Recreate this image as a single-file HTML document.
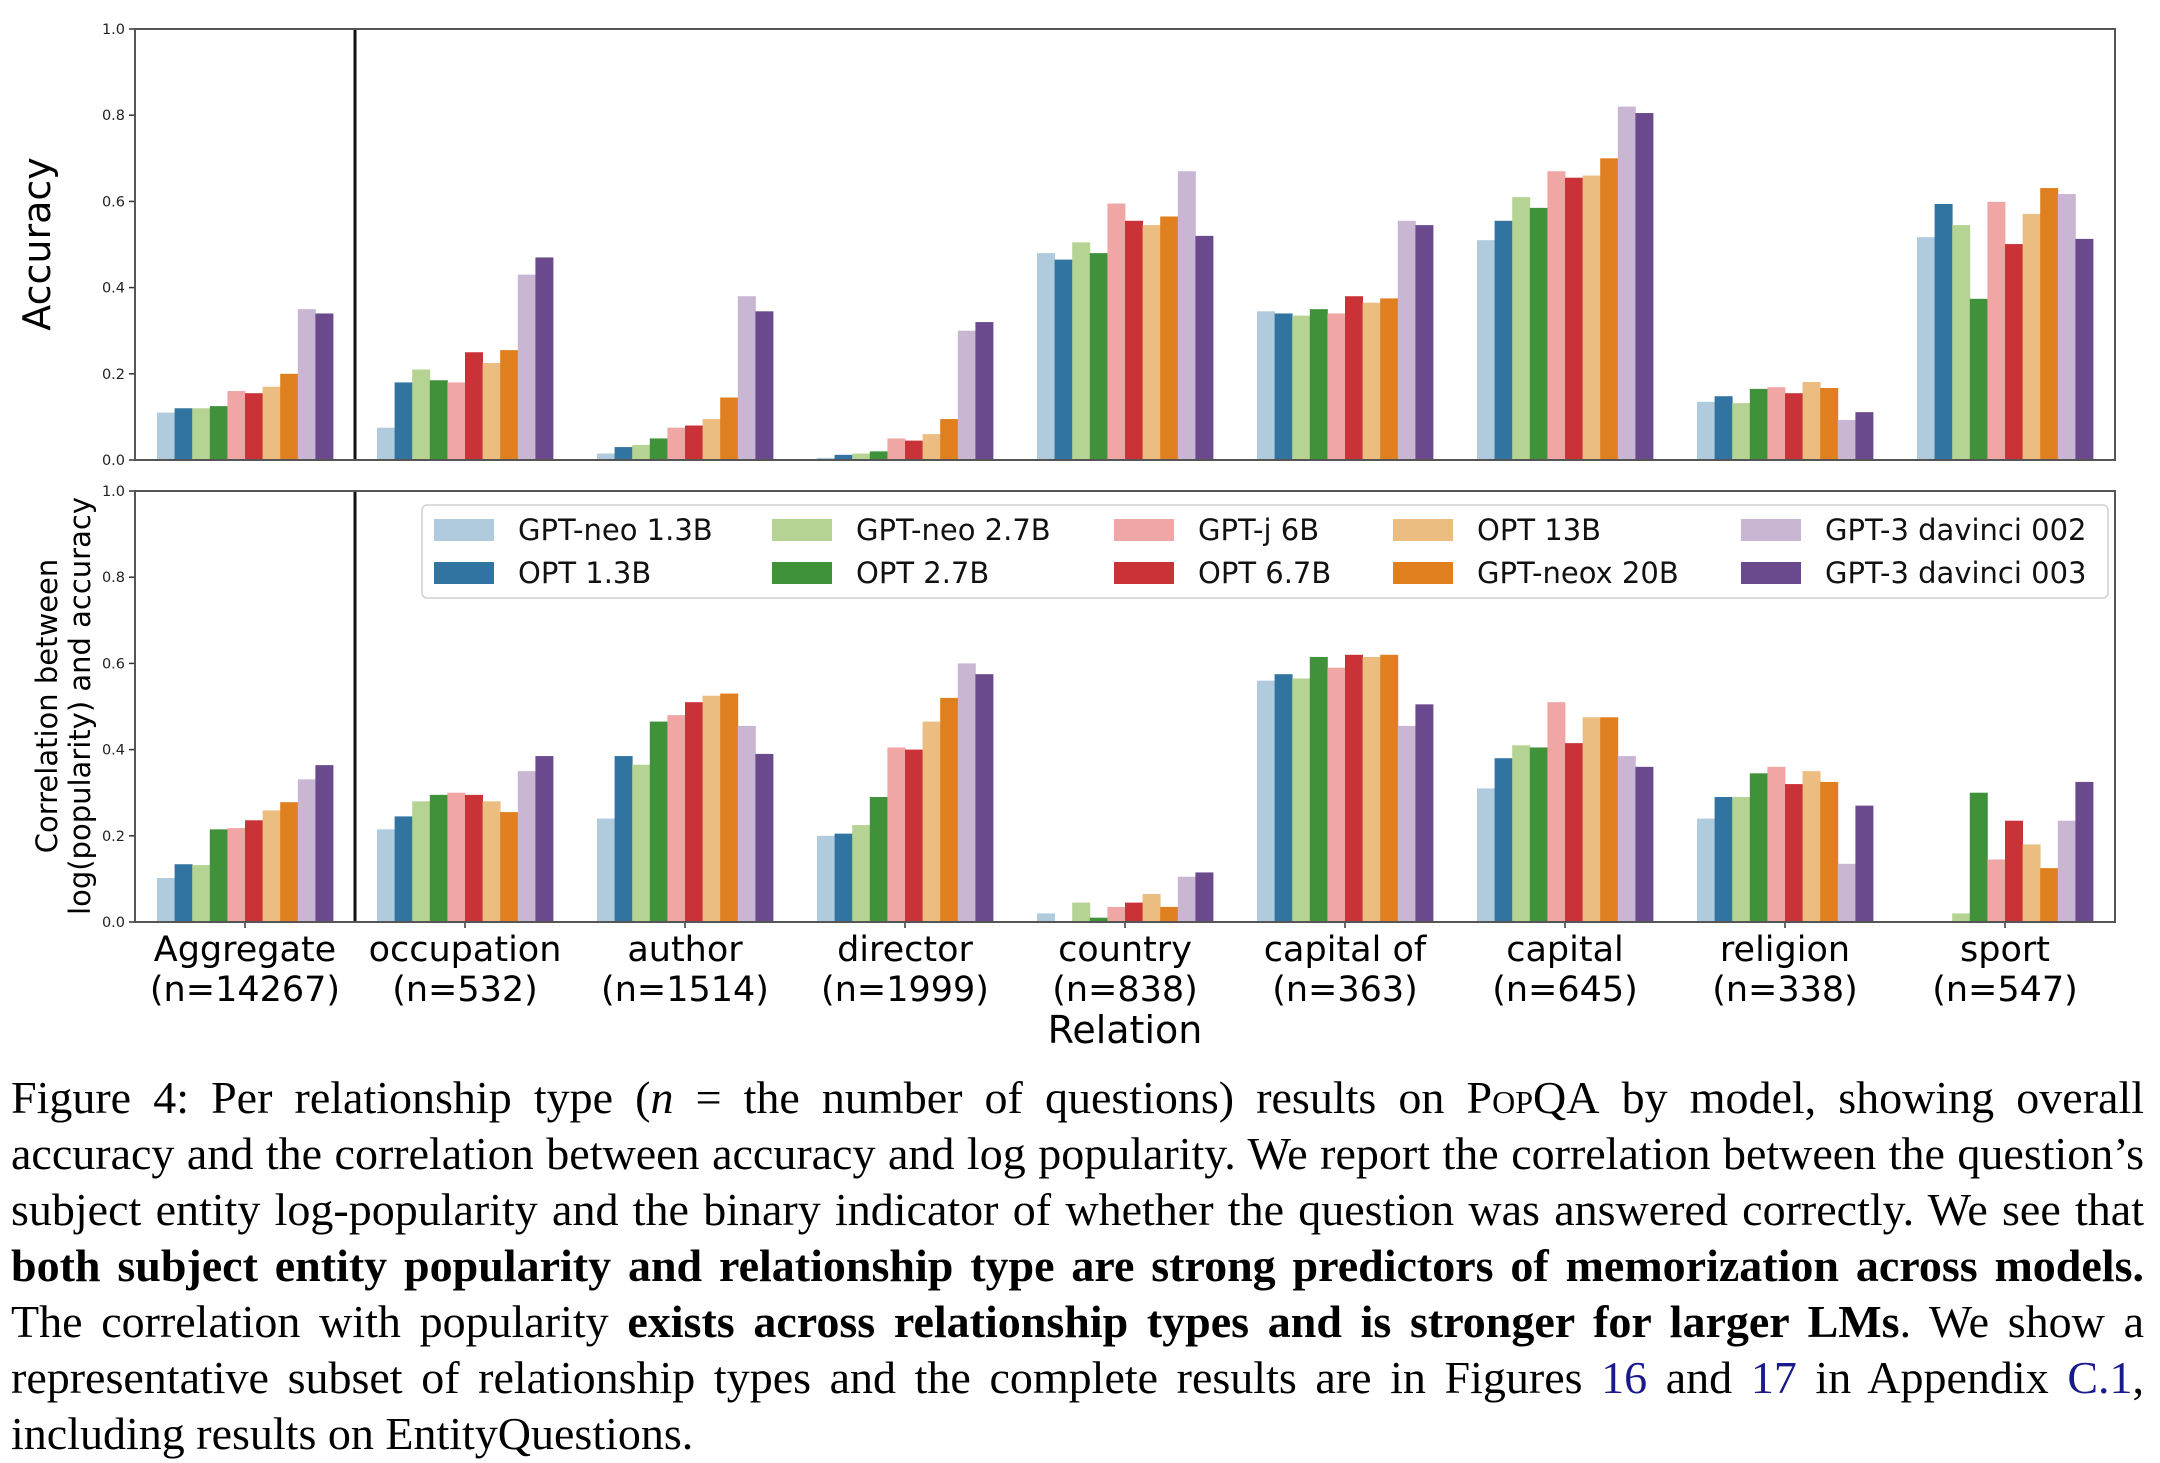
<!DOCTYPE html>
<html><head><meta charset="utf-8"><style>
html,body{margin:0;padding:0;background:#fff;}
#wrap{position:relative;width:2160px;height:1463px;overflow:hidden;}
svg{position:absolute;left:0;top:0;}
.cap{position:absolute;left:11px;width:2133px;font-family:"Liberation Serif",serif;font-size:46px;line-height:56px;color:#000;white-space:nowrap;}
.j{text-align:justify;text-align-last:justify;}
.sc{font-variant:small-caps;}
.lk{color:#1a1a8c;}
b{font-weight:bold;}
</style></head><body>
<div id="wrap">
<svg id="chart" width="2160" height="1463" font-family="DejaVu Sans, sans-serif"></svg>
<div class="cap j" style="top:1070px">Figure 4: Per relationship type (<i>n</i> = the number of questions) results on <span class="sc">PopQA</span> by model, showing overall</div>
<div class="cap j" style="top:1126px">accuracy and the correlation between accuracy and log popularity. We report the correlation between the question’s</div>
<div class="cap j" style="top:1182px">subject entity log-popularity and the binary indicator of whether the question was answered correctly. We see that</div>
<div class="cap j" style="top:1238px"><b>both subject entity popularity and relationship type are strong predictors of memorization across models.</b></div>
<div class="cap j" style="top:1294px">The correlation with popularity <b>exists across relationship types and is stronger for larger LMs</b>. We show a</div>
<div class="cap j" style="top:1350px">representative subset of relationship types and the complete results are in Figures <span class="lk">16</span> and <span class="lk">17</span> in Appendix <span class="lk">C.1</span>,</div>
<div class="cap" style="top:1406px">including results on EntityQuestions.</div>
</div>
<script>
const categories = ["Aggregate","occupation","author","director","country","capital of","capital","religion","sport"];
const counts = ["14267","532","1514","1999","838","363","645","338","547"];
const models = ["GPT-neo 1.3B","OPT 1.3B","GPT-neo 2.7B","OPT 2.7B","GPT-j 6B","OPT 6.7B","OPT 13B","GPT-neox 20B","GPT-3 davinci 002","GPT-3 davinci 003"];
const colors = ["#afcbdd","#3274a1","#b5d494","#3f923a","#f0a6a5","#c93337","#ebbd80","#e07f20","#c8b6d3","#6a4a8d"];
const yTicks = ["0.0","0.2","0.4","0.6","0.8","1.0"];
// accuracy[category][model]
const accuracy = [
 [0.11,0.12,0.12,0.125,0.16,0.155,0.17,0.20,0.35,0.34],
 [0.075,0.18,0.21,0.185,0.18,0.25,0.225,0.255,0.43,0.47],
 [0.015,0.03,0.035,0.05,0.075,0.08,0.095,0.145,0.38,0.345],
 [0.005,0.012,0.015,0.02,0.05,0.045,0.06,0.095,0.30,0.32],
 [0.48,0.465,0.505,0.48,0.595,0.555,0.545,0.565,0.67,0.52],
 [0.345,0.34,0.335,0.35,0.34,0.38,0.365,0.375,0.555,0.545],
 [0.51,0.555,0.61,0.585,0.67,0.655,0.66,0.70,0.82,0.805],
 [0.135,0.148,0.132,0.165,0.169,0.155,0.181,0.167,0.093,0.111],
 [0.517,0.594,0.545,0.374,0.599,0.501,0.571,0.631,0.617,0.513]
];
// correlation[category][model]
const correlation = [
 [0.102,0.134,0.132,0.215,0.218,0.236,0.259,0.278,0.331,0.364],
 [0.215,0.245,0.28,0.295,0.30,0.295,0.28,0.255,0.35,0.385],
 [0.24,0.385,0.365,0.465,0.48,0.51,0.525,0.53,0.455,0.39],
 [0.20,0.205,0.225,0.29,0.405,0.40,0.465,0.52,0.60,0.575],
 [0.02,0.0,0.045,0.01,0.035,0.045,0.065,0.035,0.105,0.115],
 [0.56,0.575,0.565,0.615,0.59,0.62,0.615,0.62,0.455,0.505],
 [0.31,0.38,0.41,0.405,0.51,0.415,0.475,0.475,0.385,0.36],
 [0.24,0.29,0.29,0.345,0.36,0.32,0.35,0.325,0.135,0.27],
 [0.0,0.0,0.02,0.30,0.145,0.235,0.18,0.125,0.235,0.325]
];

const NS = "http://www.w3.org/2000/svg";
const svg = document.getElementById('chart');
function el(tag, attrs, parent){
  const e = document.createElementNS(NS, tag);
  for (const k in attrs) e.setAttribute(k, attrs[k]);
  (parent||svg).appendChild(e);
  return e;
}
const L = 135, R = 2115;
const groupW = (R - L) / categories.length;
const barW = groupW * 0.8 / models.length;
function xGroup(i){ return L + groupW * (i + 0.5); }
function xBar(i, m){ return xGroup(i) - groupW*0.4 + m*barW; }

function panel(values, top, bottom, name, showXTicks){
  const g = el('g', {});
  
  
  const y = v => bottom - v * (bottom - top);
  values.forEach((row, i) => {
    row.forEach((v, m) => {
      const r = el('rect', {x: xBar(i,m), y: y(v), width: barW+0.4, height: bottom - y(v), fill: colors[m]}, g);
      
      
    });
  });
  yTicks.forEach(t => {
    const yy = y(parseFloat(t));
    el('line', {x1: L-6, x2: L, y1: yy, y2: yy, stroke: '#333', 'stroke-width': 1.5}, g);
    const tx = el('text', {x: L-10, y: yy+5, 'font-size': 14.5, 'text-anchor': 'end', fill: '#222'}, g);
    tx.textContent = t;
    
    
  });
  if (showXTicks) {
    categories.forEach((c, i) => {
      el('line', {x1: xGroup(i), x2: xGroup(i), y1: bottom, y2: bottom+6, stroke: '#333', 'stroke-width': 1.5}, g);
    });
  }
  el('line', {x1: 355, x2: 355, y1: top, y2: bottom, stroke: '#111', 'stroke-width': 3}, g);
  el('rect', {x: L, y: top, width: R-L, height: bottom-top, fill: 'none', stroke: '#555', 'stroke-width': 2}, g);
  return g;
}
panel(accuracy, 29, 460, 'accuracy-panel', false);
panel(correlation, 491, 922, 'correlation-panel', true);

let t = el('text', {x: 0, y: 0, 'font-size': 38, 'text-anchor': 'middle', transform: 'translate(50,244) rotate(-90)'});
t.textContent = 'Accuracy';


t = el('text', {x: 0, y: 0, 'font-size': 29, 'text-anchor': 'middle', transform: 'translate(57,706) rotate(-90)'});
t.textContent = 'Correlation between';


t = el('text', {x: 0, y: 0, 'font-size': 29, 'text-anchor': 'middle', transform: 'translate(90,706) rotate(-90)'});
t.textContent = 'log(popularity) and accuracy';



categories.forEach((c, i) => {
  let a = el('text', {x: xGroup(i), y: 961, 'font-size': 35, 'text-anchor': 'middle', fill: '#000'});
  a.textContent = c;
  
  
  let b = el('text', {x: xGroup(i), y: 1001, 'font-size': 35, 'text-anchor': 'middle', fill: '#000'});
  b.textContent = '(n=' + counts[i] + ')';
  
  
});
t = el('text', {x: (L+R)/2, y: 1043, 'font-size': 38, 'text-anchor': 'middle'});
t.textContent = 'Relation';



const lg = el('g', {});


el('rect', {x: 422, y: 505, width: 1686, height: 93, rx: 5, fill: '#fff', 'fill-opacity': 0.85, stroke: '#d0d0d0', 'stroke-width': 1.5}, lg);
const colX = [434, 772, 1114, 1393, 1741];
const rowY = [530, 573];
models.forEach((m, k) => {
  const col = Math.floor(k/2), row = k%2;
  const sw = el('rect', {x: colX[col], y: rowY[row]-11, width: 60, height: 22, fill: colors[k]}, lg);
  
  
  const tx = el('text', {x: colX[col]+84, y: rowY[row]+10, 'font-size': 29, fill: '#111'}, lg);
  tx.textContent = m;
  
  
});
</script>
</body></html>
